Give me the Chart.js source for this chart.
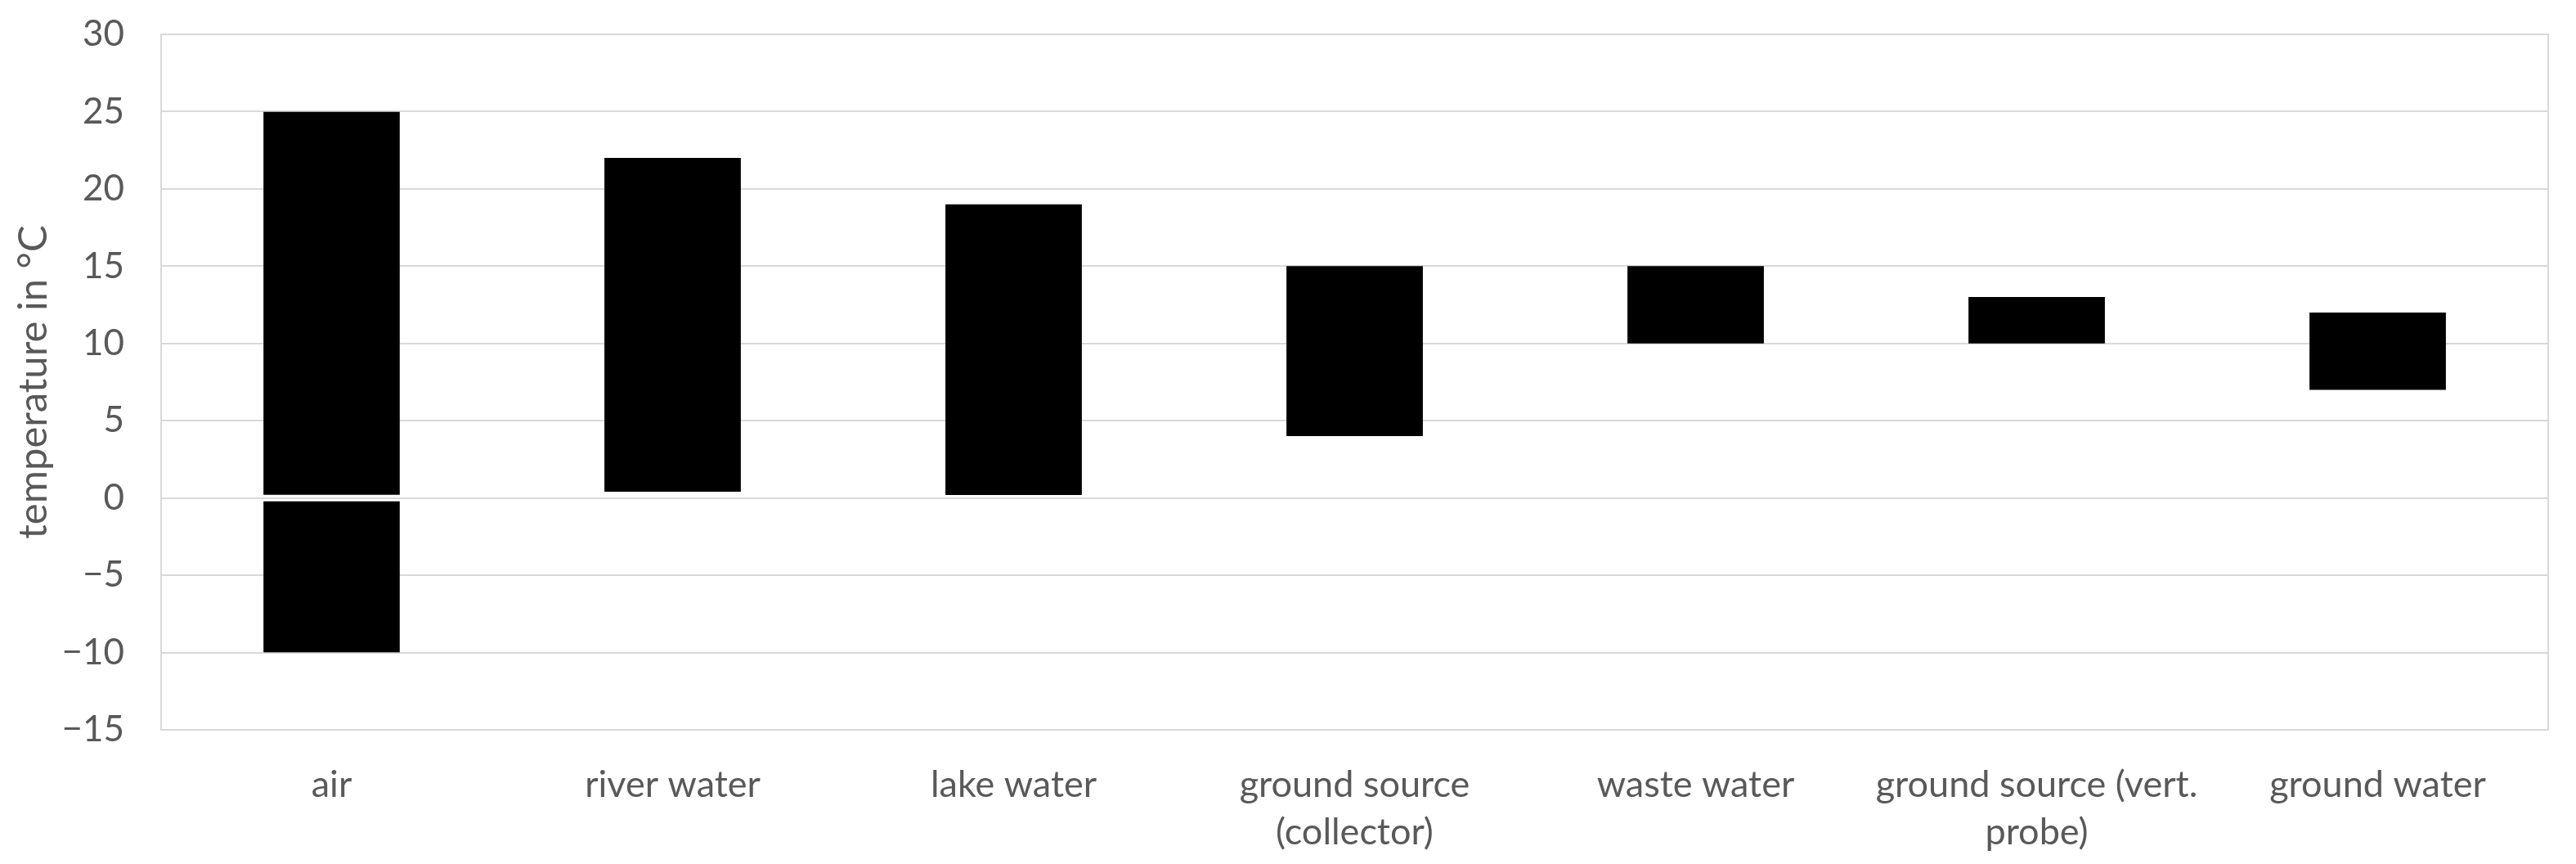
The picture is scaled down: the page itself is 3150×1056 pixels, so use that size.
<!DOCTYPE html>
<html>
<head>
<meta charset="utf-8">
<script src="https://cdn.jsdelivr.net/npm/chart.js@4/dist/chart.umd.min.js"></script>
<style>
  html, body { margin: 0; padding: 0; background: #fff; }
  #chart { display: block; }
</style>
</head>
<body>
<canvas id="chart" width="3150" height="1056"></canvas>
<script>
// temperature ranges of heat sources, in °C
const categories = [
  "air",
  "river water",
  "lake water",
  ["ground source", "(collector)"],
  "waste water",
  ["ground source (vert.", "probe)"],
  "ground water"
];
const rangeLow = [0, 0.4, 0.2, 4, 10, 10, 7];
const rangeHigh = [25, 22, 19, 15, 15, 13, 12];
// air is split at zero into a second segment
const belowLow = [-10, null, null, null, null, null, null];
const belowHigh = [0, null, null, null, null, null, null];
const yTicks = [-15, -10, -5, 0, 5, 10, 15, 20, 25, 30];

const gridColor = "#d9d9d9";
const textColor = "#595959";
const fontFamily = "Lato, 'Open Sans', sans-serif";

const upperData = categories.map((c, i) => [rangeLow[i], rangeHigh[i]]);
const lowerData = categories.map((c, i) => belowLow[i] == null ? null : [belowLow[i], belowHigh[i]]);

const config = {
  type: "bar",
  data: {
    labels: categories,
    datasets: [
      {
        label: "range",
        data: upperData,
        backgroundColor: "#000000",
        borderColor: "rgba(0,0,0,0)",
        borderSkipped: false,
        borderWidth: ctx => belowLow[ctx.dataIndex] != null ? {top: 0, bottom: 3, left: 0, right: 0} : 0,
        categoryPercentage: 1,
        barPercentage: 0.4
      },
      {
        label: "below zero",
        data: lowerData,
        backgroundColor: "#000000",
        borderColor: "rgba(0,0,0,0)",
        borderSkipped: false,
        borderWidth: {top: 3, bottom: 0, left: 0, right: 0},
        categoryPercentage: 1,
        barPercentage: 0.4
      }
    ]
  },
  options: {
    responsive: false,
    devicePixelRatio: 1,
    animation: false,
    layout: {
      padding: {top: 42, right: 0, bottom: 0, left: 0}
    },
    plugins: {
      legend: {display: false},
      tooltip: {enabled: false},
      title: {display: false}
    },
    scales: {
      x: {
        stacked: true,
        grid: {display: false},
        border: {display: true, color: gridColor, width: 2},
        ticks: {
          color: textColor,
          padding: 30,
          maxRotation: 0,
          autoSkip: false,
          font: {family: fontFamily, size: 45, lineHeight: 1.3}
        },
        afterFit: scale => {
          scale.height = 164;
          scale.paddingLeft = 0;
          scale.paddingRight = 0;
        }
      },
      y: {
        stacked: false,
        min: -15,
        max: 30,
        afterBuildTicks: scale => { scale.ticks = yTicks.map(v => ({value: v})); },
        grid: {color: gridColor, lineWidth: 2, drawTicks: false},
        border: {display: true, color: gridColor, width: 2},
        ticks: {
          color: textColor,
          padding: 45,
          font: {family: fontFamily, size: 44},
          callback: v => v < 0 ? "\u2212" + Math.abs(v) : String(v)
        },
        title: {
          display: true,
          text: "temperature in °C",
          color: textColor,
          padding: {top: 12, bottom: 0},
          font: {family: fontFamily, size: 49}
        },
        afterFit: scale => {
          scale.width = 197;
          scale.paddingTop = 0;
          scale.paddingBottom = 0;
        }
      },
      yRight: {
        position: "right",
        min: -15,
        max: 30,
        grid: {display: false, drawTicks: false},
        border: {display: true, color: gridColor, width: 2},
        ticks: {display: false},
        afterFit: scale => { scale.width = 34; }
      }
    }
  }
};

new Chart(document.getElementById("chart").getContext("2d"), config);
</script>
</body>
</html>
